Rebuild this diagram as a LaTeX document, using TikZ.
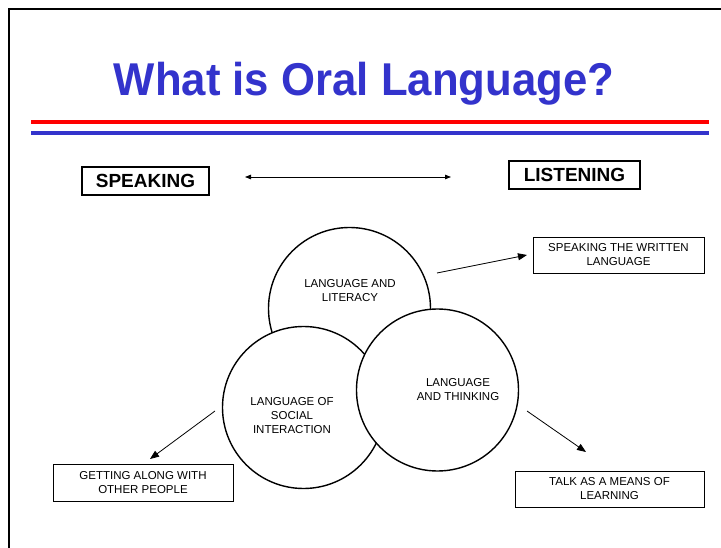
\documentclass[tikz,border=0pt]{standalone}
\usepackage{fontspec}
\setmainfont{Liberation Sans}
\usetikzlibrary{arrows.meta}
\definecolor{titleblue}{HTML}{3333CC}
\definecolor{linered}{HTML}{FF0000}
\tikzset{
  circ/.style={circle, draw=black, line width=1.4pt, fill=white, minimum size=162pt, inner sep=0pt},
  ctext/.style={align=center, font=\fontsize{11.5}{14}\selectfont},
  smallbox/.style={draw=black, line width=0.8pt, align=center, font=\fontsize{11.5}{14}\selectfont, inner sep=0pt},
  bigbox/.style={draw=black, line width=1.6pt, font=\fontsize{19}{22}\bfseries\selectfont, inner sep=0pt},
  arr/.style={-{Triangle[length=9pt,width=7pt]}, line width=0.8pt},
}
\begin{document}
\begin{tikzpicture}[x=1pt,y=-1pt]
\useasboundingbox (0,0) rectangle (721,548);
\fill[white] (0,0) rectangle (721,548);
% slide frame
\draw[line width=2pt] (9,560) -- (9,9) -- (730,9);
% title
\node[text=titleblue, font=\fontsize{46}{52}\bfseries\selectfont, anchor=base, xscale=0.95] (title) at (364,96) {What is Oral Language?};
\draw[linered, line width=4pt] (31,122) -- (709,122);
\draw[titleblue, line width=4pt] (31,133) -- (709,133);
% speaking / listening
\node[bigbox, minimum width=127pt, minimum height=28pt] (speak) at (145.5,181) {SPEAKING};
\node[bigbox, minimum width=131pt, minimum height=28pt] (listen) at (574.5,175) {LISTENING};
\coordinate (da) at (245,177);
\coordinate (db) at (451,177);
\draw[{Triangle[length=6pt,width=4.5pt]}-{Triangle[length=6pt,width=4.5pt]}, line width=0.8pt] (da) -- (db);
% circles
\node[circ] (lit) at (349.5,308.5) {};
\node[circ] (soc) at (303.5,407.5) {};
\node[circ] (thk) at (437.5,390) {};
\node[ctext] (littext) at (350,291) {LANGUAGE AND\\LITERACY};
\node[ctext] (soctext) at (292,416) {LANGUAGE OF\\SOCIAL\\INTERACTION};
\node[ctext] (thktext) at (458,390) {LANGUAGE\\AND THINKING};
% outcome boxes
\node[smallbox, minimum width=171pt, minimum height=36pt] (write) at (618.5,255) {SPEAKING THE WRITTEN\\LANGUAGE};
\node[smallbox, minimum width=189pt, minimum height=36pt] (talk) at (609.5,489) {TALK AS A MEANS OF\\LEARNING};
\node[smallbox, minimum width=180pt, minimum height=37pt] (get) at (143,482.5) {GETTING ALONG WITH\\OTHER PEOPLE};
% arrows
\coordinate (a1s) at (437,273);
\coordinate (a1e) at (527,255);
\draw[arr] (a1s) -- (a1e);
\coordinate (a2s) at (527,411);
\coordinate (a2e) at (586,452);
\draw[arr] (a2s) -- (a2e);
\coordinate (a3s) at (215,411);
\coordinate (a3e) at (150,459);
\draw[arr] (a3s) -- (a3e);
\end{tikzpicture}
\end{document}
